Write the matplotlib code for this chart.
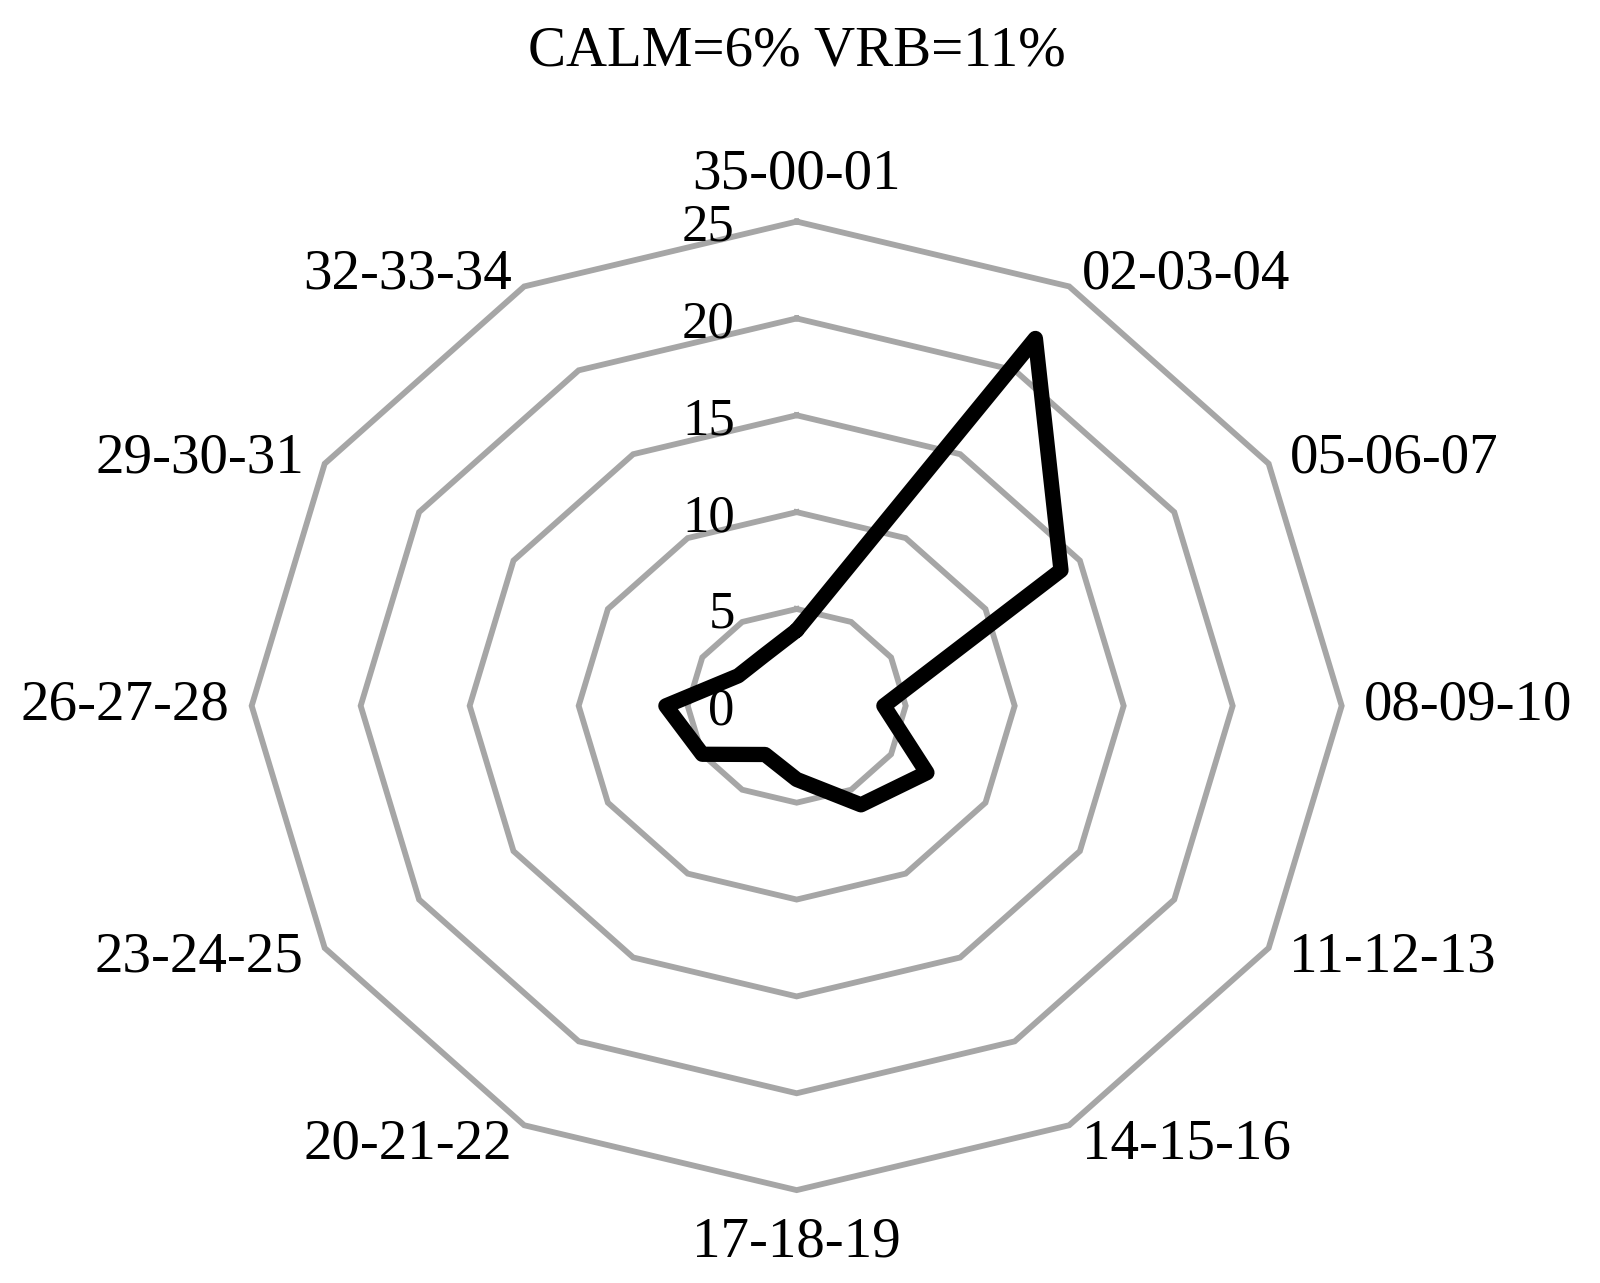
import numpy as np
import matplotlib
matplotlib.use('Agg')
from matplotlib import pyplot as plt

directions = ['35-00-01', '02-03-04', '05-06-07', '08-09-10', '11-12-13', '14-15-16',
              '17-18-19', '20-21-22', '23-24-25', '26-27-28', '29-30-31', '32-33-34']
frequency = [3.9, 21.9, 14.0, 4.0, 6.9, 5.9, 3.8, 2.9, 5.0, 6.0, 3.1, 3.0]
rings = [5, 10, 15, 20, 25]
tick_labels = ['0', '5', '10', '15', '20', '25']
title_text = 'CALM=6% VRB=11%'

plt.rcParams['font.family'] = ['Liberation Serif', 'DejaVu Serif']


def to_xy(r, a):
    """Compass style: 0 at the top, clockwise"""
    return r * np.sin(a), r * np.cos(a)


angles = np.radians(np.arange(len(directions)) * 360 / len(directions))
closed = np.append(angles, angles[0])

fig = plt.figure(figsize=(16, 12.83), dpi=100)
ax = fig.add_axes([0.1028, 0.012, 0.79025, 0.8757])
ax.set_xlim(-29, 29)
ax.set_ylim(-29, 29)
ax.axis('off')

for r in rings:
    x, y = to_xy(r, closed)
    ax.plot(x, y, color='#a6a6a6', lw=4.2, solid_joinstyle='miter')

vals = np.append(frequency, frequency[0])
x, y = to_xy(vals, closed)
ax.plot(x, y, color='black', lw=11, solid_joinstyle='round',
        solid_capstyle='round', zorder=3)

# axis labels sit just outside the outer ring
offsets = [(0, 34), (9, 8.5), (15, 4), (16, 0), (15, -7), (9, -14), (0, -38)]
for i, (name, a) in enumerate(zip(directions, angles)):
    k = i if i <= 6 else 12 - i
    dx, dy = offsets[k]
    if i == 0 or i == 6:
        ha = 'center'
    elif i < 6:
        ha = 'left'
    else:
        ha = 'right'
        dx = -dx
    ax.annotate(name, xy=to_xy(rings[-1], a), xytext=(dx, dy),
                textcoords='offset points', ha=ha, va='center', fontsize=41)

# value labels left of the top spoke
for lab in tick_labels:
    ax.annotate(lab, xy=(0, float(lab)), xytext=(-44.6, -4.3),
                textcoords='offset points', ha='right', va='center', fontsize=38)

fig.text(797 / 1600, 1 - 52 / 1283, title_text, ha='center', va='center', fontsize=41)

plt.savefig('out.png', dpi=100)
